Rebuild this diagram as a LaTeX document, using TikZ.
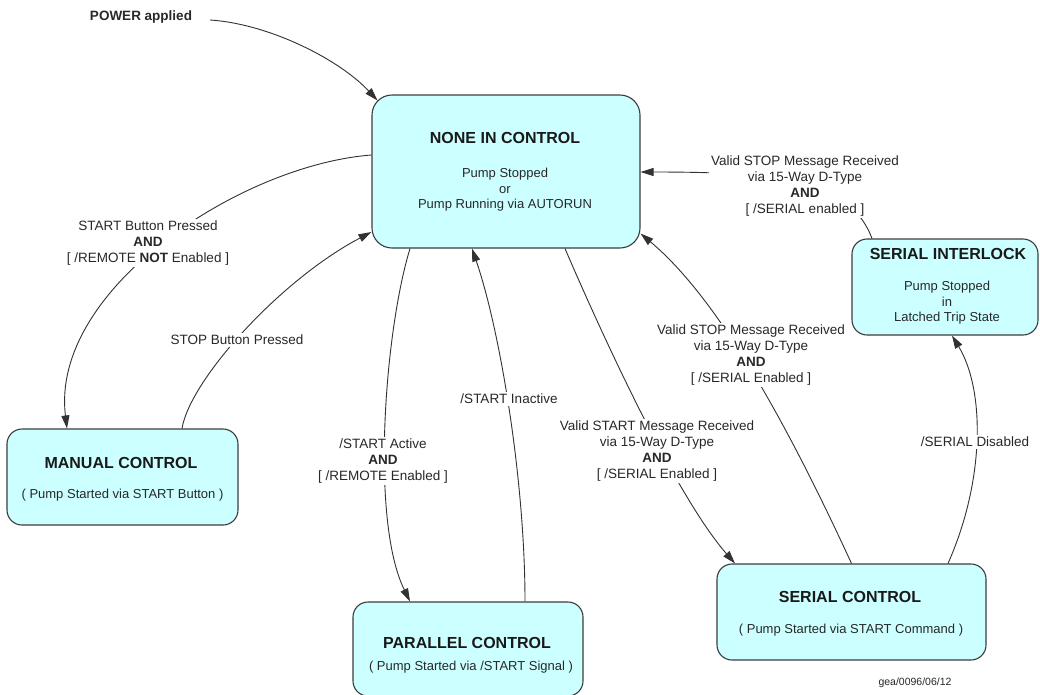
\documentclass[tikz,border=0pt]{standalone}
\usepackage{fontspec}
\setmainfont{Liberation Sans}
\usetikzlibrary{arrows.meta}
\definecolor{boxfill}{RGB}{204,255,255}
\definecolor{boxline}{RGB}{60,60,60}
\definecolor{txt}{RGB}{40,40,40}
\definecolor{edgecol}{RGB}{50,50,50}
\begin{document}
\begin{tikzpicture}[x=1pt,y=-1pt,
  state/.style={draw=boxline, fill=boxfill, line width=1.1pt, rounded corners=15pt, inner sep=0pt},
  ttl/.style={font=\fontsize{16}{19}\selectfont\bfseries, text=black!90, inner sep=0pt},
  body/.style={font=\fontsize{13}{15.5}\selectfont, text=txt, align=center, inner sep=0pt},
  lbl/.style={font=\fontsize{13.5}{16}\selectfont, text=txt, align=center, fill=white, inner sep=2pt},
  trans/.style={draw=edgecol, line width=0.9pt, -{Triangle[length=13pt,width=8pt]}}]
\useasboundingbox[fill=white] (0,0) rectangle (1040,694);

% states
\node[state, rounded corners=20pt, minimum width=268pt, minimum height=153pt] (none) at (506,171.5) {};
\node[state, minimum width=231pt, minimum height=96pt] (manual) at (122.5,477) {};
\node[state, minimum width=230pt, minimum height=94pt] (par) at (468,649) {};
\node[state, minimum width=269pt, minimum height=96pt] (ser) at (851.5,612) {};
\node[state, minimum width=186pt, minimum height=96pt] (ilk) at (945,287) {};

% state texts
\node[ttl] (noneT) at (505,138) {NONE IN CONTROL};
\node[body] (noneB) at (505,190) {Pump Stopped\\or\\Pump Running via AUTORUN};
\node[ttl] (manualT) at (121,463) {MANUAL CONTROL};
\node[body] (manualB) at (122.5,495) {( Pump Started via START Button )};
\node[ttl] (parT) at (467,643) {PARALLEL CONTROL};
\node[body] (parB) at (471,667) {( Pump Started via /START Signal )};
\node[ttl] (serT) at (850,597) {SERIAL CONTROL};
\node[body] (serB) at (851,630) {( Pump Started via START Command )};
\node[ttl] (ilkT) at (948,254) {SERIAL INTERLOCK};
\node[body] (ilkB) at (947,303) {Pump Stopped\\in\\Latched Trip State};

% power
\node[font=\fontsize{13.5}{16}\selectfont\bfseries, text=txt, inner sep=2pt] (pw) at (141,17) {POWER applied};

% transitions
\draw[trans] ([shift={(16,3)}]pw.east) .. controls (270,24) and (340,60) .. ([shift={(6,6)}]none.north west);
\draw[trans] ([shift={(0,-16.5)}]none.west) .. controls (240,165) and (50,290) .. ([shift={(-55.5,0)}]manual.north);
\draw[trans] ([shift={(59.5,0)}]manual.north) .. controls (190,380) and (280,280) .. ([shift={(0,60.5)}]none.west);
\draw[trans] ([shift={(-96,0)}]none.south) .. controls (385,330) and (370,520) .. ([shift={(-58,0)}]par.north);
\draw[trans] ([shift={(57,0)}]par.north) .. controls (525,480) and (500,330) .. ([shift={(-34,0)}]none.south);
\draw[trans] ([shift={(59,0)}]none.south) .. controls (600,330) and (675,495) .. ([shift={(-116.5,0)}]ser.north);
\draw[trans] (ser.north) .. controls (790,430) and (720,300) .. ([shift={(0,-15)}]none.south east);
\draw[trans] ([shift={(96.5,0)}]ser.north) .. controls (985,480) and (985,390) .. ([shift={(7,0)}]ilk.south);
\draw[trans] ([shift={(-73,0)}]ilk.north) .. controls (850,180) and (780,172) .. ([shift={(0,0.5)}]none.east);

% transition labels
\node[lbl] (l2) at (148,243) {START Button Pressed\\\textbf{AND}\\{[} /REMOTE \textbf{NOT} Enabled ]};
\node[lbl] (l3) at (237,340) {STOP Button Pressed};
\node[lbl] (l4) at (383,461) {/START Active\\\textbf{AND}\\{[} /REMOTE Enabled ]};
\node[lbl] (l5) at (509,399) {/START Inactive};
\node[lbl] (l6) at (657,451) {Valid START Message Received\\via 15-Way D-Type\\\textbf{AND}\\{[} /SERIAL Enabled ]};
\node[lbl] (l7) at (751,355) {Valid STOP Message Received\\via 15-Way D-Type\\\textbf{AND}\\{[} /SERIAL Enabled ]};
\node[lbl] (l8) at (975,442) {/SERIAL Disabled};
\node[lbl] (l9) at (805,186) {Valid STOP Message Received\\via 15-Way D-Type\\\textbf{AND}\\{[} /SERIAL enabled ]};

\node[font=\fontsize{10.5}{12}\selectfont, text=txt, inner sep=0pt] (ref) at (915,683) {gea/0096/06/12};
\end{tikzpicture}
\end{document}
